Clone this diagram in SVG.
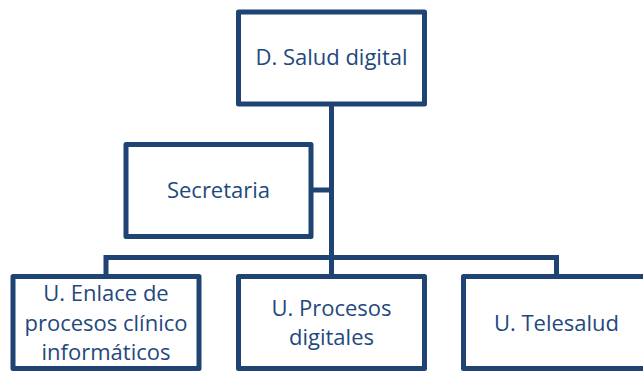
<svg xmlns="http://www.w3.org/2000/svg" width="643" height="373" viewBox="0 0 643 373">
<style>
.box{fill:#FFFFFF;stroke:#1F4373;stroke-width:5;stroke-linejoin:round}
.lbl{font-family:"Open Sans","Noto Sans","Liberation Sans",sans-serif;font-size:22px;fill:#1F497D;text-anchor:middle}
.conn{fill:none;stroke:#1F4373;stroke-width:5;stroke-linejoin:miter}
</style>
<rect width="643" height="373" fill="#FFFFFF"/>
<g id="connectors">
<path class="conn" d="M331.5,104 V276.5"/>
<path class="conn" d="M311,190 H331.5"/>
<path class="conn" d="M106,276.5 V257.5 H556.5 V276.5"/>
</g>
<g id="node-director">
<rect class="box" x="238.5" y="12" width="186" height="92"/>
<text class="lbl" x="331.5" y="65">D. Salud digital</text>
</g>
<g id="node-secretaria">
<rect class="box" x="126" y="144.5" width="185" height="92"/>
<text class="lbl" x="218.5" y="197.5">Secretaria</text>
</g>
<g id="node-enlace">
<rect class="box" x="13" y="276.5" width="186" height="92"/>
<text class="lbl" x="106" y="301">U. Enlace de</text>
<text class="lbl" x="106" y="330.5">procesos clínico</text>
<text class="lbl" x="106" y="359.5">informáticos</text>
</g>
<g id="node-procesos">
<rect class="box" x="238.5" y="276.5" width="186" height="92"/>
<text class="lbl" x="331.5" y="315.5">U. Procesos</text>
<text class="lbl" x="331.5" y="344.5">digitales</text>
</g>
<g id="node-telesalud">
<rect class="box" x="463.5" y="276.5" width="186" height="92"/>
<text class="lbl" x="556.5" y="331">U. Telesalud</text>
</g>
</svg>
